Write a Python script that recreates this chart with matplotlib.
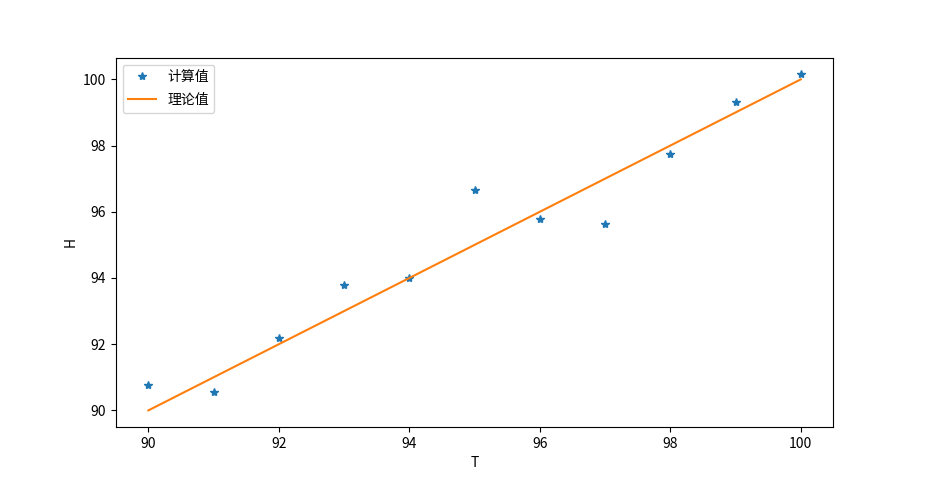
import matplotlib
matplotlib.use("Agg")
import matplotlib.pyplot as plt

plt.rcParams['font.family'] = ['Noto Sans CJK SC', 'DejaVu Sans']
plt.rcParams['axes.unicode_minus'] = False

T = [90, 91, 92, 93, 94, 95, 96, 97, 98, 99, 100]
H_calc = [90.76, 90.55, 92.20, 93.79, 94.00, 96.66, 95.79, 95.63, 97.74, 99.31, 100.15]
H_theory = [90, 91, 92, 93, 94, 95, 96, 97, 98, 99, 100]

fig, ax = plt.subplots(figsize=(9.26, 4.8), dpi=100)
ax.plot(T, H_calc, '*', label='计算值')
ax.plot(T, H_theory, '-', label='理论值')
ax.set_xlabel('T')
ax.set_ylabel('H')
ax.legend(loc='upper left', labelspacing=0.65)
fig.savefig('out.png', dpi=100)
